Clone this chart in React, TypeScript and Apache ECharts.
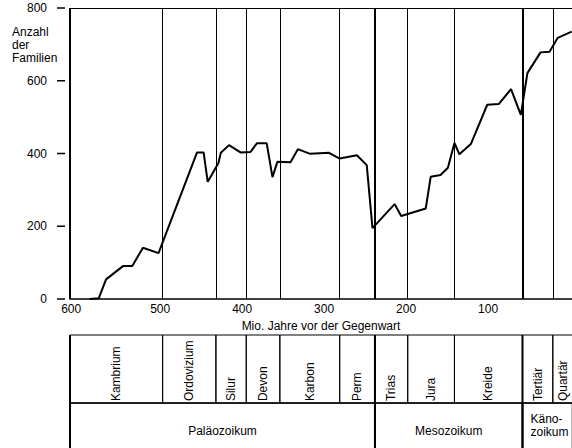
import React, { useEffect, useRef } from "react";
import * as echarts from "echarts";

const FONT = "'Liberation Sans', Arial, Helvetica, sans-serif";

// Curve: number of families over time (Ma before present)
const years = [586, 575, 566, 545, 534, 521, 502, 455, 447, 442, 429, 426, 416, 402, 390, 382, 370, 363, 357, 341, 332, 317, 294, 281, 260, 248, 241, 214, 206, 176, 170, 158, 149, 141, 135, 121, 101, 87, 72, 60, 52, 36, 25, 15, -2];
const families = [0, 2, 54, 91, 91, 141, 126, 403, 403, 322, 373, 402, 423, 403, 404, 428, 428, 335, 377, 376, 412, 399, 402, 386, 395, 368, 195, 261, 228, 249, 336, 341, 361, 429, 398, 426, 534, 536, 577, 506, 621, 678, 680, 718, 735];

// Geological periods
const periods = ["Kambrium", "Ordovizium", "Silur", "Devon", "Karbon", "Perm", "Trias", "Jura", "Kreide", "Tertiär", "Quartär"];
const periodStart = [610, 497, 432, 395, 354, 281, 238, 198, 141, 58, 21];
const periodEnd = [497, 432, 395, 354, 281, 238, 198, 141, 58, 21, -3];

// Eras
const eras = ["Paläozoikum", "Mesozoikum", "Käno-\nzoikum"];
const eraStart = [610, 238, 58];
const eraEnd = [238, 58, -3];

const xTicks = [600, 500, 400, 300, 200, 100];
const yTicks = [0, 200, 400, 600, 800];
const X_MIN = -2.4;
const X_MAX = 610;

export default function App() {
  const ref = useRef<HTMLDivElement>(null);

  useEffect(() => {
    if (!ref.current) return;
    const chart = echarts.init(ref.current, null, { renderer: "svg" });

    const boundaryLines = periodStart.map((v) => ({
      xAxis: v,
      lineStyle: {
        color: "#000",
        width: eraStart.includes(v) ? 2 : 1,
        type: "solid",
      },
    }));

    const option: any = {
      animation: false,
      backgroundColor: "#fff",
      textStyle: { fontFamily: FONT, color: "#000" },
      title: {
        text: "Anzahl\nder\nFamilien",
        left: 12,
        top: 25,
        padding: 0,
        textStyle: { fontSize: 12, fontWeight: "normal", color: "#000", fontFamily: FONT, lineHeight: 13 },
      },
      grid: [
        { left: 70, right: 0, top: 8, height: 291 },
        { left: 70, right: 0, top: 335, bottom: 0 },
      ],
      xAxis: [
        {
          type: "value",
          gridIndex: 0,
          inverse: true,
          min: X_MIN,
          max: X_MAX,
          name: "Mio. Jahre vor der Gegenwart",
          nameLocation: "middle",
          nameGap: 16,
          nameTextStyle: { fontSize: 12, color: "#000", fontFamily: FONT },
          axisLine: { show: true, lineStyle: { color: "#000", width: 1.5 } },
          axisTick: { show: false },
          splitLine: { show: false },
          axisLabel: {
            customValues: xTicks,
            margin: 4,
            fontSize: 12,
            color: "#000",
            fontFamily: FONT,
            formatter: (v: number) => (v === xTicks[0] ? "{edge|" + v + "}" : String(v)),
            rich: {
              edge: { fontSize: 12, fontFamily: FONT, color: "#000", padding: [0, 14, 0, 0] },
            },
          },
        },
        {
          type: "value",
          gridIndex: 0,
          position: "top",
          inverse: true,
          min: X_MIN,
          max: X_MAX,
          axisLine: { show: true, lineStyle: { color: "#000", width: 1 } },
          axisTick: { show: false },
          axisLabel: { show: false },
          splitLine: { show: false },
        },
        {
          type: "value",
          gridIndex: 1,
          inverse: true,
          min: X_MIN,
          max: X_MAX,
          show: false,
        },
      ],
      yAxis: [
        {
          type: "value",
          gridIndex: 0,
          min: 0,
          max: 800,
          interval: 200,
          offset: 5,
          axisLine: { show: false },
          axisTick: { show: false },
          splitLine: { show: false },
          axisLabel: { margin: 18, fontSize: 12, color: "#000", fontFamily: FONT },
        },
        {
          type: "value",
          gridIndex: 1,
          min: 0,
          max: 1.66,
          inverse: true,
          show: false,
        },
      ],
      series: [
        {
          type: "line",
          xAxisIndex: 0,
          yAxisIndex: 0,
          data: years.map((y, i) => [y, families[i]]),
          showSymbol: false,
          symbol: "none",
          lineStyle: { color: "#000", width: 2 },
          z: 5,
          markLine: {
            silent: true,
            symbol: "none",
            label: { show: false },
            data: boundaryLines,
          },
        },
        {
          // y-axis tick dashes, detached from the axis line
          type: "custom",
          xAxisIndex: 0,
          yAxisIndex: 0,
          clip: false,
          silent: true,
          data: yTicks.map((v) => [X_MAX, v]),
          renderItem: (params: any, api: any) => {
            const p = api.coord([api.value(0), api.value(1)]);
            return {
              type: "line",
              shape: { x1: p[0] - 13, y1: p[1], x2: p[0] - 5, y2: p[1] },
              style: { stroke: "#000", lineWidth: 1.5 },
            };
          },
        },
        {
          type: "custom",
          xAxisIndex: 2,
          yAxisIndex: 1,
          data: periods.map((_, i) => [periodStart[i], periodEnd[i]]),
          renderItem: (params: any, api: any) => {
            const s = api.value(0);
            const e = api.value(1);
            const p0 = api.coord([s, 0]);
            const p1 = api.coord([e, 1]);
            const name = periods[params.dataIndex];
            return {
              type: "group",
              children: [
                {
                  type: "rect",
                  shape: { x: p0[0], y: p0[1], width: p1[0] - p0[0], height: p1[1] - p0[1] },
                  style: { fill: "none", stroke: "#000", lineWidth: 1 },
                },
                {
                  type: "text",
                  x: (p0[0] + p1[0]) / 2,
                  y: p1[1] - 2,
                  rotation: Math.PI / 2,
                  style: {
                    text: name,
                    align: "left",
                    verticalAlign: "middle",
                    fontSize: 12,
                    fontFamily: FONT,
                    fill: "#000",
                  },
                },
              ],
            };
          },
        },
        {
          type: "custom",
          xAxisIndex: 2,
          yAxisIndex: 1,
          data: eras.map((_, i) => [eraStart[i], eraEnd[i]]),
          renderItem: (params: any, api: any) => {
            const s = api.value(0);
            const e = api.value(1);
            const top0 = api.coord([s, 0]);
            const p0 = api.coord([s, 1]);
            const p1 = api.coord([e, 2]);
            const name = eras[params.dataIndex];
            const w = p1[0] - p0[0];
            const narrow = w < 80;
            return {
              type: "group",
              children: [
                {
                  type: "rect",
                  shape: { x: p0[0], y: p0[1], width: w, height: p1[1] - p0[1] },
                  style: { fill: "none", stroke: "#000", lineWidth: 1.5 },
                },
                {
                  type: "line",
                  shape: { x1: top0[0], y1: top0[1], x2: p0[0], y2: p1[1] },
                  style: { stroke: "#000", lineWidth: 2 },
                },
                {
                  type: "text",
                  x: narrow ? p0[0] + 8 : (p0[0] + p1[0]) / 2,
                  y: narrow ? p0[1] + 22 : p0[1] + 28,
                  style: {
                    text: name,
                    align: narrow ? "left" : "center",
                    verticalAlign: "middle",
                    fontSize: 12,
                    lineHeight: 13,
                    fontFamily: FONT,
                    fill: "#000",
                  },
                },
              ],
            };
          },
        },
      ],
    };

    chart.setOption(option);
    return () => chart.dispose();
  }, []);

  return (
    <div
      ref={ref}
      style={{ position: "absolute", left: 0, top: 0, width: 572, height: 448, background: "#fff" }}
    />
  );
}
